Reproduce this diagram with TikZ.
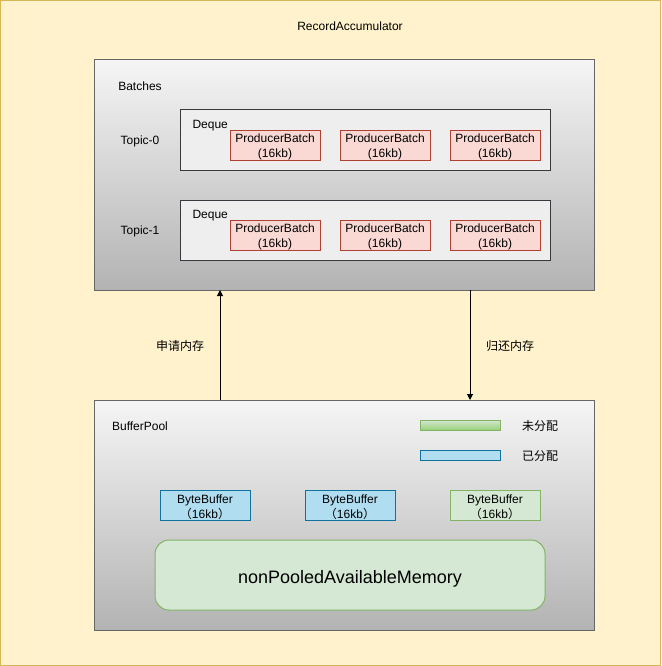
\documentclass[tikz,border=0pt]{standalone}
\usepackage{fontspec}
\setmainfont{Liberation Sans}
\newfontfamily\cjk{Noto Sans CJK SC}
\usetikzlibrary{arrows.meta}
\definecolor{bgfill}{HTML}{FFF2CC}
\definecolor{bgline}{HTML}{D6B656}
\definecolor{grayline}{HTML}{666666}
\definecolor{graytop}{HTML}{F5F5F5}
\definecolor{graybot}{HTML}{B3B3B3}
\definecolor{dqfill}{HTML}{EEEEEE}
\definecolor{dqline}{HTML}{36393D}
\definecolor{pbfill}{HTML}{FAD9D5}
\definecolor{pbline}{HTML}{AE4132}
\definecolor{bbfill}{HTML}{B1DDF0}
\definecolor{bbline}{HTML}{10739E}
\definecolor{gnfill}{HTML}{D5E8D4}
\definecolor{gnline}{HTML}{82B366}
\definecolor{gnbot}{HTML}{97D077}
\begin{document}
\begin{tikzpicture}[x=1pt,y=-1pt,line width=1pt,
  txt/.style={font=\fontsize{12}{15}\selectfont,inner sep=0pt,align=center,yshift=-1.5pt},
  cjktxt/.style={font=\cjk\fontsize{12}{15}\selectfont,inner sep=0pt,align=center,yshift=-1pt},
  lbl/.style={font=\fontsize{12}{15}\selectfont,inner sep=0pt,align=center,yshift=-2pt},
  boxbase/.style={inner sep=0pt,outer sep=0pt,align=center},
  grad/.style={boxbase,draw=grayline,top color=graytop,bottom color=graybot,minimum width=500pt,minimum height=230pt},
  dequebox/.style={boxbase,draw=dqline,fill=dqfill,minimum width=370pt,minimum height=60pt},
  pbbox/.style={boxbase,draw=pbline,fill=pbfill,minimum width=90pt,minimum height=30pt,
    label={[lbl]center:ProducerBatch\\(16kb)}},
  bbused/.style={boxbase,draw=bbline,fill=bbfill,minimum width=90pt,minimum height=30pt,
    label={[lbl]center:ByteBuffer\\{\cjk（}16kb{\cjk）}}},
  bbfree/.style={boxbase,draw=gnline,fill=gnfill,minimum width=90pt,minimum height=30pt,
    label={[lbl]center:ByteBuffer\\{\cjk（}16kb{\cjk）}}},
  arr/.style={draw=black,-{Triangle[length=6pt,width=6pt]}}]
\useasboundingbox (0,0) rectangle (661,666);
\node[boxbase,draw=bgline,fill=bgfill,minimum width=660pt,minimum height=665pt] (bg) at (330.5,333) {};
\node[txt] (title) at (350,25) {RecordAccumulator};
% Batches
\node[grad] (batches) at (344,175) {};
\node[txt] (batcheslbl) at (140,84.5) {Batches};
\node[dequebox] (dq0) at (365,140) {};
\node[dequebox] (dq1) at (365,230) {};
\node[txt] (t0) at (140,140) {Topic-0};
\node[txt] (t1) at (140,230) {Topic-1};
\node[txt,anchor=west] (dq0lbl) at (192,124) {Deque};
\node[txt,anchor=west] (dq1lbl) at (192,214) {Deque};
\node[pbbox] (pb01) at (275,145) {};
\node[pbbox] (pb02) at (385,145) {};
\node[pbbox] (pb03) at (495,145) {};
\node[pbbox] (pb11) at (275,235) {};
\node[pbbox] (pb12) at (385,235) {};
\node[pbbox] (pb13) at (495,235) {};
% BufferPool
\node[grad] (pool) at (344,515) {};
\node[txt] (poollbl) at (140,424.5) {BufferPool};
\node[boxbase,draw=gnline,top color=gnfill,bottom color=gnbot,minimum width=80pt,minimum height=10pt] (lgfree) at (460,425) {};
\node[boxbase,draw=bbline,fill=bbfill,minimum width=80pt,minimum height=10pt] (lgused) at (460,455) {};
\node[cjktxt] (lgfreelbl) at (540,425) {未分配};
\node[cjktxt] (lgusedlbl) at (540,455) {已分配};
\node[bbused] (bb1) at (205,505) {};
\node[bbused] (bb2) at (350,505) {};
\node[bbfree] (bb3) at (495,505) {};
\node[boxbase,draw=gnline,fill=gnfill,rounded corners=14pt,minimum width=390pt,minimum height=70pt,
  label={[inner sep=0pt,font=\fontsize{18}{22}\selectfont,yshift=-3.5pt]center:nonPooledAvailableMemory}] (nonpooled) at (350,575) {};
% arrows
\coordinate (upx) at (220,0);
\coordinate (downx) at (470,0);
\draw[arr] (pool.north -| upx) -- (batches.south -| upx);
\draw[arr] (batches.south -| downx) -- (pool.north -| downx);
\node[cjktxt] (alloc) at (180,345) {申请内存};
\node[cjktxt] (release) at (510,345) {归还内存};
\end{tikzpicture}
\end{document}
